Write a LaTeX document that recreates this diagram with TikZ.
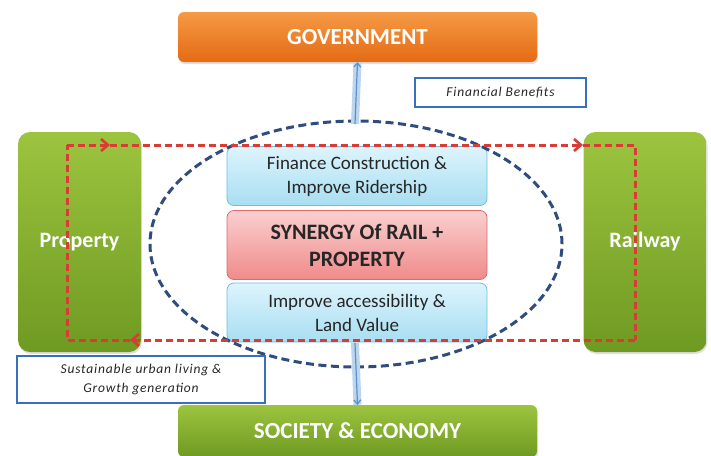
\documentclass[tikz,border=0pt]{standalone}
\usepackage{fontspec}
\setmainfont{Carlito}
\usetikzlibrary{shapes.geometric,arrows.meta,shadows}
\definecolor{orA}{HTML}{F59A45}
\definecolor{orB}{HTML}{E56A14}
\definecolor{grA}{HTML}{9CC43F}
\definecolor{grB}{HTML}{6F9A22}
\definecolor{bluA}{HTML}{DDF4FC}
\definecolor{bluB}{HTML}{A8DEF2}
\definecolor{bluD}{HTML}{6CC0DE}
\definecolor{pkA}{HTML}{FAD0D0}
\definecolor{pkB}{HTML}{F08A8A}
\definecolor{pkD}{HTML}{D96B6B}
\definecolor{redD}{HTML}{D93B35}
\definecolor{ellC}{HTML}{2F4C7E}
\definecolor{frameC}{HTML}{3A6FC0}
\definecolor{arrL}{HTML}{BCD6EE}
\definecolor{arrD}{HTML}{5B8FD0}
\tikzset{
  titlebox/.style={rounded corners=6pt, minimum width=359pt, minimum height=50pt, inner sep=0pt,
    text=white, font=\bfseries\fontsize{23}{26}\selectfont, drop shadow={opacity=0.25,shadow xshift=1pt,shadow yshift=-2pt}},
  sidebox/.style={rounded corners=12pt, minimum width=123pt, minimum height=220pt, inner sep=0pt,
    top color=grA, bottom color=grB, text=white, font=\bfseries\fontsize{22}{26}\selectfont,
    drop shadow={opacity=0.25,shadow xshift=1pt,shadow yshift=-2pt}},
  bluebox/.style={rounded corners=7pt, minimum width=260pt, minimum height=59pt, inner sep=0pt,
    draw=bluD, line width=0.8pt, top color=bluA, bottom color=bluB, align=center,
    font=\fontsize{19}{24}\selectfont, text=black!85},
  pinkbox/.style={rounded corners=7pt, minimum width=260pt, minimum height=69pt, inner sep=0pt,
    draw=pkD, line width=0.8pt, top color=pkA, bottom color=pkB, align=center,
    font=\bfseries\fontsize{22}{27}\selectfont, text=black!85},
  labelbox/.style={draw=frameC, line width=2.6pt, fill=white, align=center, inner sep=0pt,
    font=\itshape\fontsize{13.5}{19}\selectfont\addfontfeature{LetterSpace=6}, text=black!85},
  reddash/.style={draw=redD, line width=3pt, dash pattern=on 7pt off 4pt},
  redtip/.style={-{Straight Barb[length=7pt,width=12pt,line width=2.6pt]}},
  bigarrow/.style={draw=arrL, line width=8pt},
  thinarrow/.style={draw=arrD, line width=1.2pt, -{Straight Barb[length=4pt,width=7pt]}}
}
\begin{document}
\begin{tikzpicture}[x=1pt,y=-1pt]
\useasboundingbox (0,0) rectangle (711,455);
% title boxes
\node[titlebox, top color=orA, bottom color=orB] (gov) at (357.5,37) {GOVERNMENT};
\node[titlebox, top color=grA, bottom color=grB, minimum height=52pt] (soc) at (357.5,431) {SOCIETY \& ECONOMY};
% side boxes
\node[sidebox] (prop) at (79.5,242) {Property};
\node[sidebox] (rail) at (645,242) {Railway};
% central boxes
\node[bluebox] (fin) at (357,176) {Finance Construction \&\\Improve Ridership};
\node[pinkbox] (syn) at (357,245) {SYNERGY Of RAIL +\\PROPERTY};
\node[bluebox] (acc) at (357,312.5) {Improve accessibility \&\\Land Value};
% ellipse
\node[ellipse, draw=ellC, line width=3pt, dash pattern=on 8pt off 4.5pt, minimum width=412pt, minimum height=246pt, inner sep=0pt] (ell) at (356,244) {};
% labels
\node[labelbox, minimum width=171pt, minimum height=29pt] (finb) at (500.5,92.5) {Financial Benefits};
\node[labelbox, minimum width=248pt, minimum height=47pt] (sust) at (141,379.5) {Sustainable urban living \&\\Growth generation};
% blue arrows
\coordinate (upA) at (355,124);
\draw[bigarrow] (upA) -- (gov.south);
\draw[thinarrow] (upA) -- (gov.south);
\coordinate (dnA) at (355,343);
\draw[bigarrow] (dnA) -- (soc.north);
\draw[thinarrow] (dnA) -- (soc.north);
% red loop
\coordinate (A) at (67,145);
\coordinate (P1) at (110,145);
\coordinate (P2) at (583,145);
\coordinate (B) at (635,145);
\coordinate (C) at (635,340);
\coordinate (P3) at (130,340);
\coordinate (D) at (67,340);
\draw[reddash, redtip] (A) -- (P1);
\draw[reddash, redtip] (P1) -- (P2);
\draw[reddash] (P2) -- (B) -- (C);
\draw[reddash, redtip] (C) -- (P3);
\draw[reddash] (P3) -- (D) -- (A);
\end{tikzpicture}
\end{document}
